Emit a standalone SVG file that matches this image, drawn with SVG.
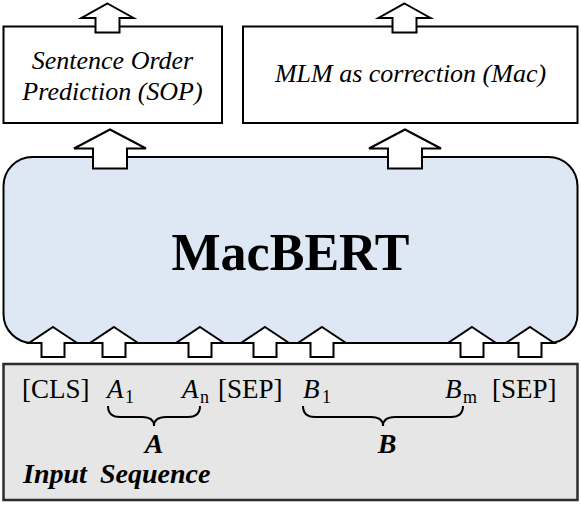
<svg xmlns="http://www.w3.org/2000/svg" width="581" height="511" viewBox="0 0 581 511">
<style>
.box{fill:#ffffff;stroke:#000000;stroke-width:2}
.core{fill:#dde8f4;stroke:#000000;stroke-width:2}
.input{fill:#e6e6e6;stroke:#2b2b2b;stroke-width:2.5}
.arr{fill:#ffffff;stroke:#000000;stroke-width:2;stroke-linejoin:miter}
.brace{fill:none;stroke:#000000;stroke-width:2}
.t{font-family:"Liberation Serif","Times New Roman",serif;fill:#000000}
.it{font-style:italic}
.bd{font-weight:bold}
</style>
<defs>
<path id="arrL" d="M0,0 L36,19 L17,19 L17,39 L-17,39 L-17,19 L-36,19 Z"/>
<path id="arrS" d="M0,0 L26,14.5 L12,14.5 L12,29 L-12,29 L-12,14.5 L-26,14.5 Z"/>
<path id="arrB" d="M0,0 L24,16 L11.5,16 L11.5,30 L-11.5,30 L-11.5,16 L-24,16 Z"/>
</defs>

<g id="input-sequence">
<rect class="input" x="3.5" y="364" width="574" height="136"/>
<text class="t" x="22" y="398" font-size="27">[CLS]</text>
<text class="t it" x="107" y="398" font-size="27">A</text>
<text class="t" x="125" y="403" font-size="18">1</text>
<text class="t it" x="182" y="398" font-size="27">A</text>
<text class="t" x="200" y="403" font-size="18">n</text>
<text class="t" x="218" y="398" font-size="27">[SEP]</text>
<text class="t it" x="303" y="398" font-size="27">B</text>
<text class="t" x="322" y="403" font-size="18">1</text>
<text class="t it" x="445" y="398" font-size="27">B</text>
<text class="t" x="463" y="403" font-size="18">m</text>
<text class="t" x="492" y="398" font-size="27">[SEP]</text>
<path class="brace" d="M108,406 Q108,417 120,417 L142,417 Q154,417 154,426 Q154,417 166,417 L188,417 Q200,417 200,406"/>
<path class="brace" d="M303,406 Q303,417 315,417 L371,417 Q383,417 383,426 Q383,417 395,417 L451,417 Q463,417 463,406"/>
<text class="t it bd" x="154" y="453" font-size="28" text-anchor="middle">A</text>
<text class="t it bd" x="387" y="453" font-size="28" text-anchor="middle">B</text>
<text class="t it bd" x="23" y="483" font-size="28">Input</text>
<text class="t it bd" x="100" y="483" font-size="28">Sequence</text>
</g>

<g id="macbert">
<rect class="core" x="3.5" y="157" width="574" height="186" rx="29" ry="29"/>
<text class="t bd" x="290.5" y="270" font-size="52" text-anchor="middle">MacBERT</text>
</g>

<g id="sop">
<rect class="box" x="3.5" y="26.5" width="218.5" height="96.5"/>
<text class="t it" x="112.5" y="69" font-size="26" text-anchor="middle">Sentence Order</text>
<text class="t it" x="112.5" y="100" font-size="26" text-anchor="middle">Prediction (SOP)</text>
</g>

<g id="mac">
<rect class="box" x="243" y="26.5" width="334.5" height="96.5"/>
<text class="t it" x="410.5" y="82" font-size="26" text-anchor="middle">MLM as correction (Mac)</text>
</g>

<g id="connectors">
<use href="#arrS" class="arr" x="107.5" y="3.5"/>
<use href="#arrS" class="arr" x="404.5" y="3.5"/>
<use href="#arrL" class="arr" x="110" y="129.5"/>
<use href="#arrL" class="arr" x="405" y="129.5"/>
<use href="#arrB" class="arr" x="53" y="327"/>
<use href="#arrB" class="arr" x="114" y="327"/>
<use href="#arrB" class="arr" x="200" y="327"/>
<use href="#arrB" class="arr" x="265" y="327"/>
<use href="#arrB" class="arr" x="322" y="327"/>
<use href="#arrB" class="arr" x="472" y="327"/>
<use href="#arrB" class="arr" x="530" y="327"/>
</g>
</svg>
